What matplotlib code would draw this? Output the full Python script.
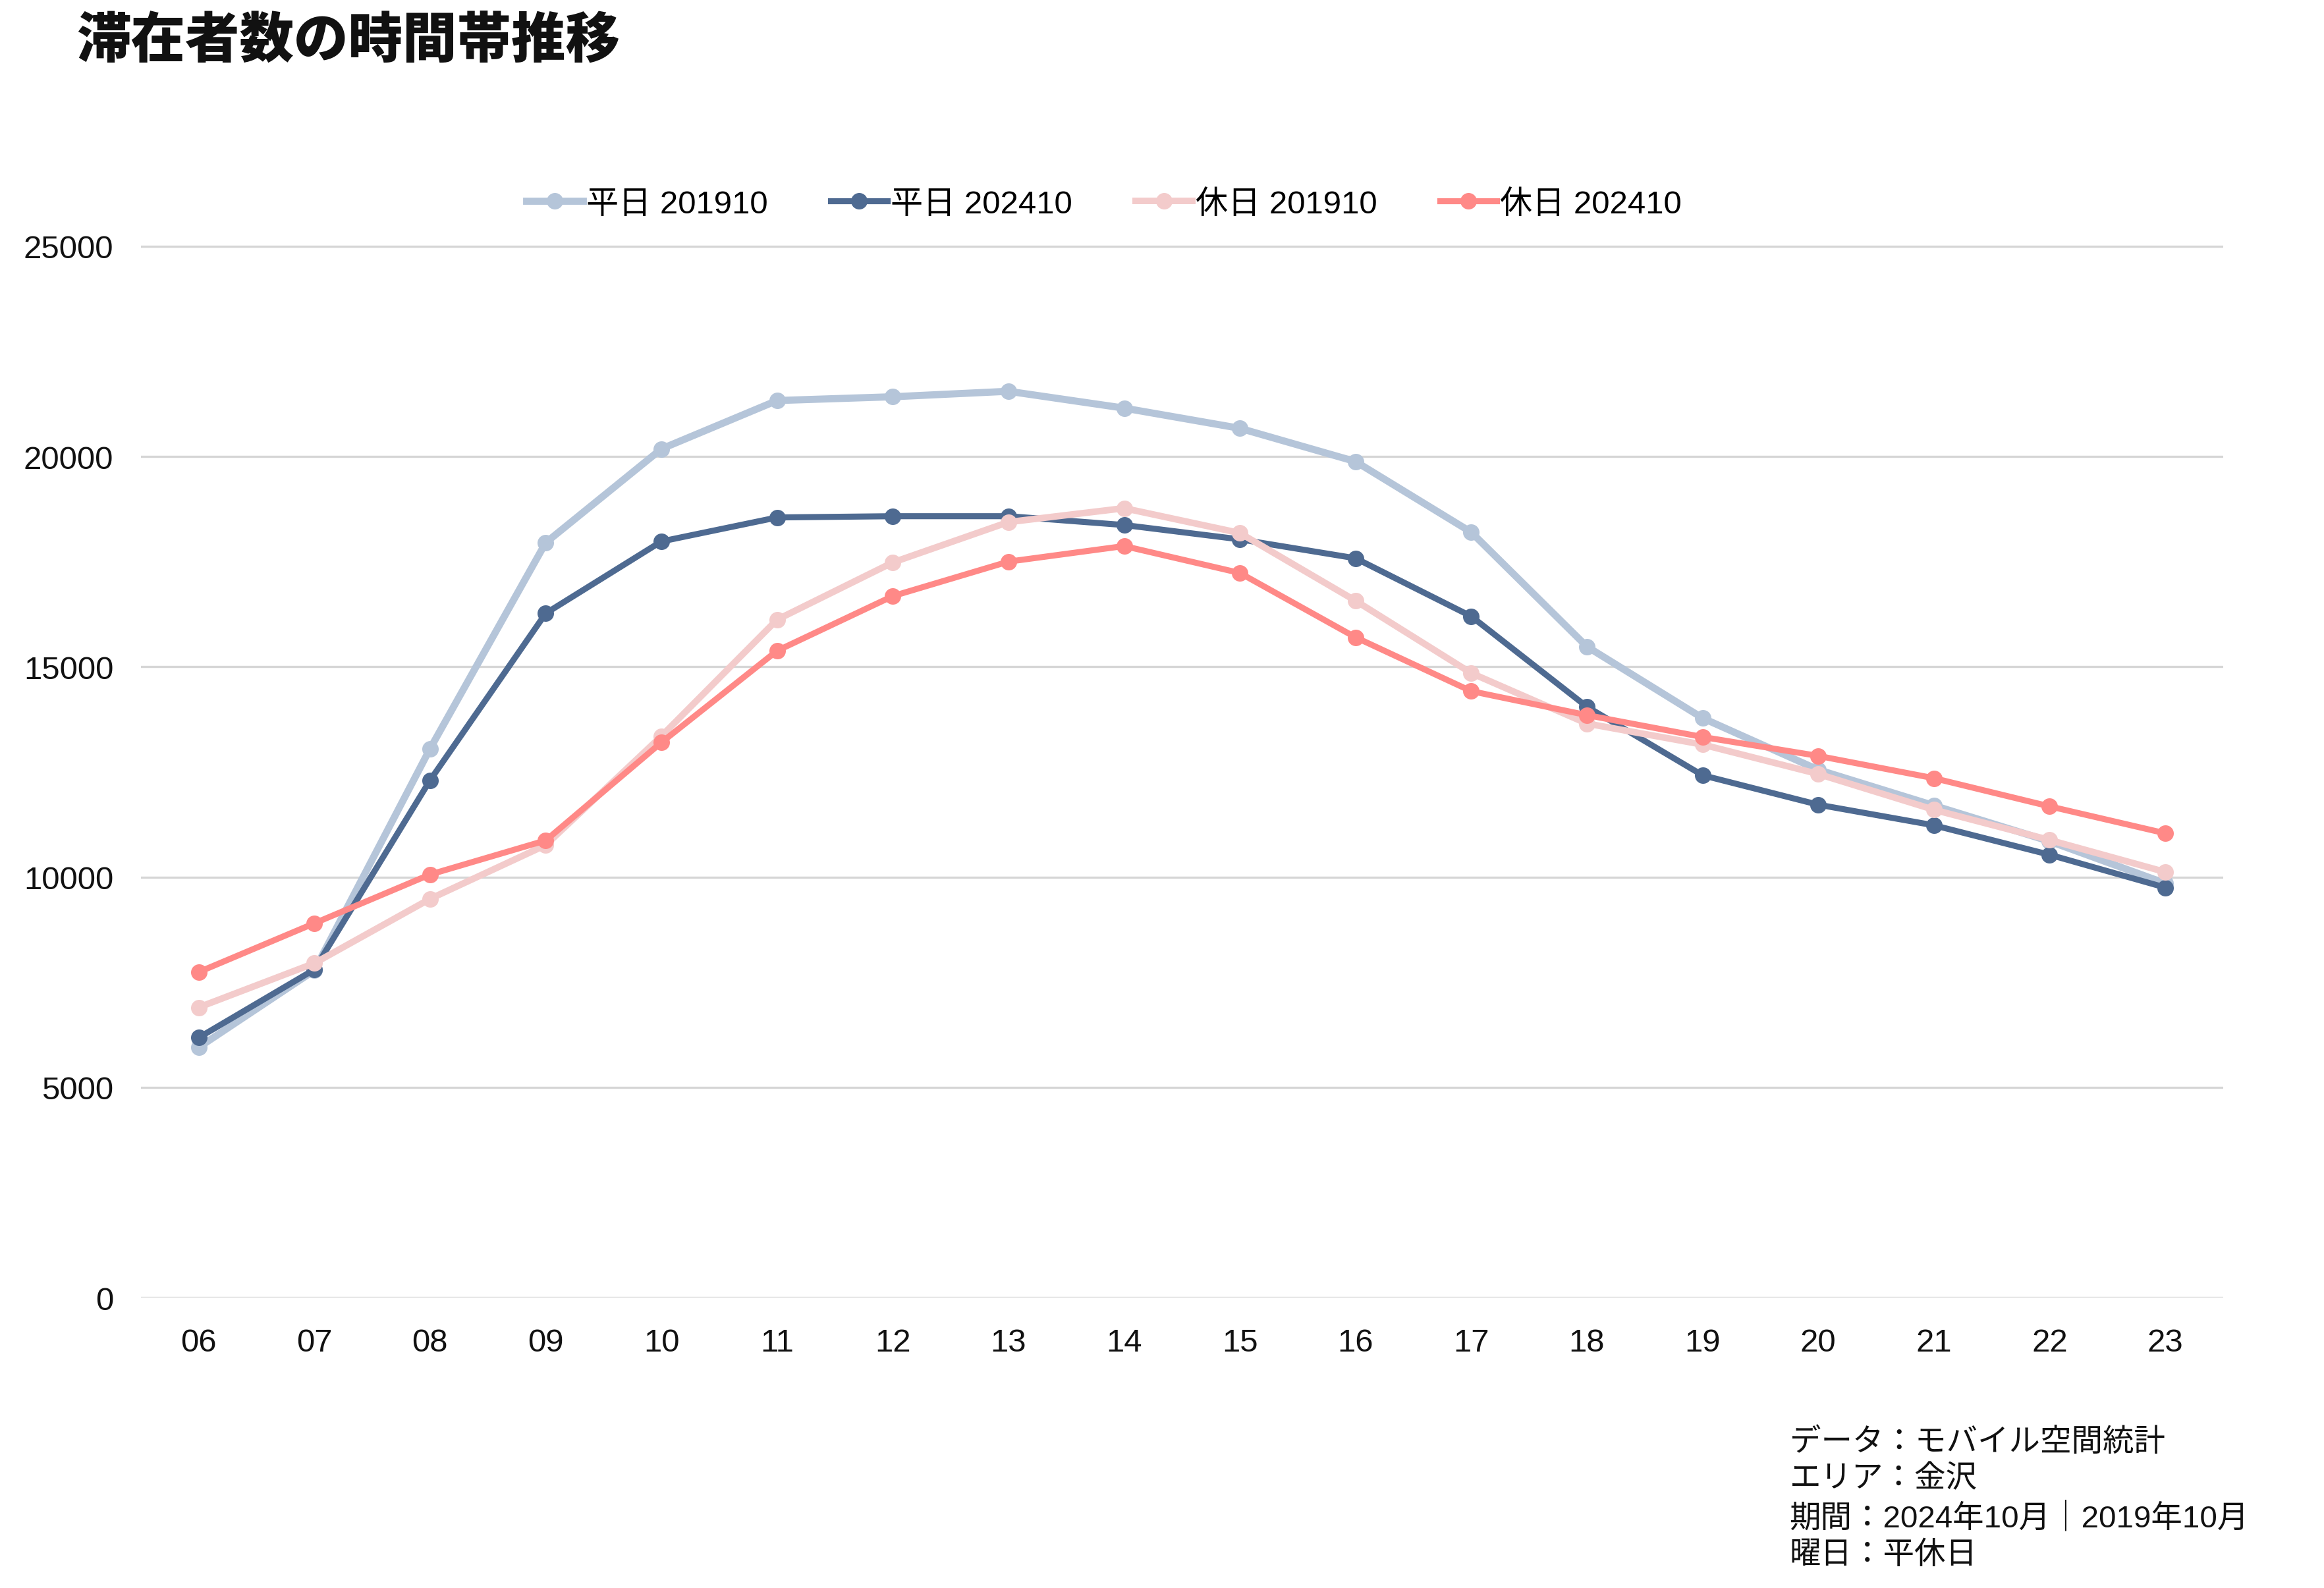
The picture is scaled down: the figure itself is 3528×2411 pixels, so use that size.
import matplotlib
matplotlib.use("Agg")
import matplotlib.pyplot as plt
import numpy as np

plt.rcParams['font.family'] = ['Liberation Sans', 'Noto Sans CJK JP', 'DejaVu Sans']

hours = ["06", "07", "08", "09", "10", "11", "12", "13", "14", "15", "16", "17", "18", "19", "20", "21", "22", "23"]

weekday_2019 = [5950, 7780, 13050, 17950, 20180, 21330, 21420, 21550, 21150, 20670, 19880, 18200,
                15480, 13780, 12550, 11700, 10850, 9850]
weekday_2024 = [6180, 7800, 12300, 16270, 17980, 18550, 18580, 18580, 18370, 18030, 17580, 16200,
                14050, 12420, 11720, 11230, 10530, 9750]
holiday_2019 = [6900, 7950, 9480, 10760, 13350, 16120, 17480, 18440, 18770, 18180, 16570, 14850,
                13650, 13150, 12450, 11600, 10880, 10120]
holiday_2024 = [7740, 8900, 10060, 10870, 13200, 15380, 16680, 17500, 17870, 17230, 15700, 14420,
                13850, 13330, 12880, 12350, 11680, 11040]

series = [
    ("平日 201910", weekday_2019, "#b5c5d9", 2.6),
    ("平日 202410", weekday_2024, "#4e6a91", 2.2),
    ("休日 201910", holiday_2019, "#f3cbcb", 2.4),
    ("休日 202410", holiday_2024, "#ff8987", 2.2),
]

fig = plt.figure(figsize=(11.76, 8.04), dpi=300)
ax = fig.add_axes([0.0606, 0.1828, 0.896, 0.728])

x = np.arange(len(hours))
for label, vals, color, lw in series:
    ax.plot(x, vals, color=color, lw=lw, marker="o", markersize=5, label=label)

ax.set_xlim(-0.5, len(hours) - 0.5)
ax.set_ylim(0, 27500)
ax.set_yticks([0, 5000, 10000, 15000, 20000, 25000])
ax.set_xticks(x)
ax.set_xticklabels(hours)
ax.tick_params(axis="both", length=0, labelsize=11.8, colors="#111111")
ax.tick_params(axis="x", pad=11)
ax.tick_params(axis="y", pad=10)
ax.grid(axis="y", color="#d6d6d6", lw=0.8)
ax.set_axisbelow(True)
for s in ax.spines.values():
    s.set_visible(False)

fig.legend(loc="center", bbox_to_anchor=(0.475, 0.871), ncol=4, frameon=False,
           fontsize=11.8, handlelength=1.75, handletextpad=0.1, columnspacing=1.95)

fig.text(0.033, 0.974, "滞在者数の時間帯推移", fontsize=19.8, fontweight="heavy",
         family=["Noto Sans CJK JP"], va="center", ha="left", color="#111111")

note = "データ：モバイル空間統計\nエリア：金沢\n期間：2024年10月｜2019年10月\n曜日：平休日"
fig.text(0.770, 0.101, note, fontsize=11.4, va="top", ha="left", linespacing=1.34,
         color="#111111")

fig.savefig("out.png", dpi=300)
